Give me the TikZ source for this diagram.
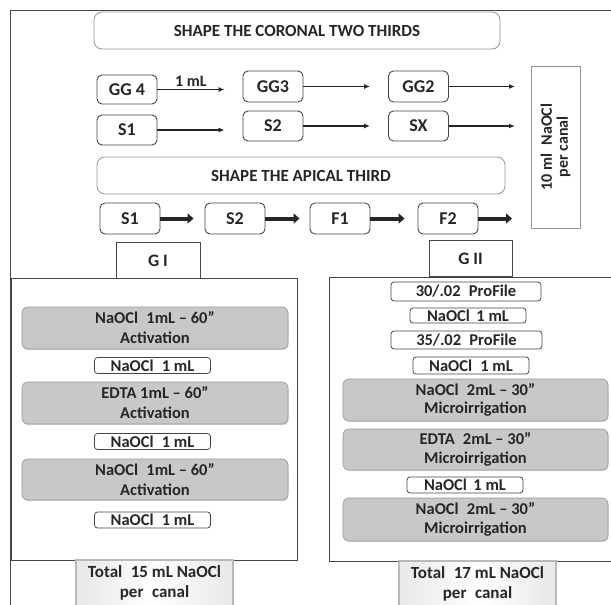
\documentclass[tikz,border=0pt]{standalone}
\usepackage{fontspec}
\setmainfont{Carlito}
\usetikzlibrary{arrows.meta,shadows}
\definecolor{inkgray}{RGB}{38,38,38}
\definecolor{stepgray}{RGB}{200,200,200}
\definecolor{edgegray}{RGB}{150,150,150}
\definecolor{framegray}{RGB}{70,70,70}

\begin{document}
\begin{tikzpicture}[
  x=1pt, y=-1pt,
  every node/.style={font=\bfseries, text=inkgray, inner sep=0pt},
  banner/.style={draw=edgegray, rounded corners=8pt, line width=0.8pt,
    minimum width=406pt, minimum height=37pt,
    font=\fontsize{17}{20}\selectfont\bfseries},
  filebox/.style={draw=framegray, rounded corners=5pt, line width=0.9pt,
    minimum width=60pt, minimum height=30pt,
    font=\fontsize{18}{20}\selectfont\bfseries},
  groupbox/.style={draw=framegray, line width=0.9pt,
    minimum width=84pt, minimum height=36pt,
    font=\fontsize{17.5}{20}\selectfont\bfseries},
  stepbox/.style={fill=stepgray, draw=edgegray, rounded corners=6pt,
    line width=0.6pt, minimum width=266pt, minimum height=42pt, align=center,
    font=\fontsize{16.5}{20}\selectfont\bfseries,
    drop shadow={opacity=0.3, shadow xshift=0.6pt, shadow yshift=-1.2pt}},
  rinse/.style={draw=framegray, rounded corners=3pt, line width=0.8pt,
    minimum width=116pt, minimum height=16pt,
    font=\fontsize{16.5}{16}\selectfont\bfseries},
  totalbox/.style={draw=gray!55, line width=1.1pt, left color=gray!18,
    right color=gray!18, middle color=white, minimum width=157pt,
    minimum height=46pt, align=center,
    font=\fontsize{17}{20}\selectfont\bfseries},
  thinflow/.style={-{Latex[length=6pt,width=5pt]}, line width=1.4pt, black!85},
  thickflow/.style={-{Triangle[length=6pt,width=10pt]}, line width=4pt, black!85},
]
\useasboundingbox (0,0) rectangle (611,605);

%% ---- OUTER FRAME (open to the right and below) ----
\draw[framegray, line width=0.9pt] (611,10) -- (10,10) -- (10,605);

%% ---- CORONAL TWO THIRDS ----
\node[banner] (coronal) at (297,30.5) {SHAPE THE CORONAL TWO THIRDS};

% Gates Glidden row
\node[filebox, minimum height=29pt] (gg4) at (127,89.5) {GG 4};
\node[filebox, minimum height=31pt] (gg3) at (273,86.5) {GG3};
\node[filebox, minimum height=31pt] (gg2) at (418.5,86.5) {GG2};
\coordinate (rowAend) at (515,88);
\draw[thinflow, shorten >=18pt] (gg4.east) -- (gg4.east -| gg3.west);
\draw[thinflow, shorten >=18pt] (gg3.east) -- (gg3.east -| gg2.west);
\draw[thinflow] (gg2.east) -- (gg2.east -| rowAend);
\node[font=\fontsize{16}{16}\selectfont\bfseries] (onemL) at (191,81) {1 mL};

% ProTaper shaping row
\node[filebox] (s1c) at (127,130) {S1};
\node[filebox] (s2c) at (273,126) {S2};
\node[filebox] (sxc) at (418.5,126) {SX};
\coordinate (rowBend) at (515,128);
\draw[thinflow, shorten >=18pt] (s1c.east) -- (s1c.east -| s2c.west);
\draw[thinflow, shorten >=18pt] (s2c.east) -- (s2c.east -| sxc.west);
\draw[thinflow] (sxc.east) -- (sxc.east -| rowBend);

% Irrigant volume (vertical)
\node[draw=edgegray, line width=0.9pt, minimum width=162pt, minimum height=49pt,
      rotate=90, align=center, font=\fontsize{16}{16}\selectfont\bfseries]
  (tenml) at (555.5,147) {10 ml\enspace NaOCl\\per canal};

%% ---- APICAL THIRD ----
\node[banner, minimum width=408pt] (apical) at (301,175.5) {SHAPE THE APICAL THIRD};

\node[filebox, minimum height=31pt] (s1a) at (130,218.5) {S1};
\node[filebox, minimum height=31pt] (s2a) at (235,218.5) {S2};
\node[filebox, minimum height=31pt] (f1a) at (340,218.5) {F1};
\node[filebox, minimum height=31pt] (f2a) at (448,218.5) {F2};
\coordinate (rowCend) at (512,218.5);
\draw[thickflow, shorten >=11pt] (s1a) -- (s2a);
\draw[thickflow, shorten >=10pt] (s2a) -- (f1a);
\draw[thickflow, shorten >=13pt] (f1a) -- (f2a);
\draw[thickflow] (f2a) -- (rowCend);

%% ---- GROUP LABELS ----
\node[groupbox] (gI) at (158,260.5) {G I};
\node[groupbox, minimum width=83pt] (gII) at (470.5,258.5) {G II};

%% ---- LEFT PANEL: G I ----
\draw[framegray, line width=0.9pt] (11,278) rectangle (297,560);

\node[stepbox] (actA) at (155,328) {NaOCl\enspace 1mL -- 60”\\Activation};
\node[rinse] (rinA) at (152.5,365.5) {NaOCl\enspace 1 mL};
\node[stepbox] (actB) at (155,403) {EDTA 1mL -- 60”\\Activation};
\node[rinse] (rinB) at (152.5,441.5) {NaOCl\enspace 1 mL};
\node[stepbox, minimum height=41pt] (actC) at (155,479.5) {NaOCl\enspace 1mL -- 60”\\Activation};
\node[rinse] (rinC) at (152.5,520) {NaOCl\enspace 1 mL};

\node[totalbox] (totI) at (154.5,583) {Total\enspace 15 mL NaOCl\\per\enspace canal};

%% ---- RIGHT PANEL: G II ----
\draw[framegray, line width=0.9pt] (611,277) -- (329,277) -- (329,561) -- (611,561);

\node[rinse, minimum width=150pt, minimum height=19pt] (pf30) at (466,291.5) {30/.02\enspace ProFile};
\node[rinse, minimum height=15pt] (rinD) at (468,315.5) {NaOCl\, 1 mL};
\node[rinse, minimum width=151pt, minimum height=18pt] (pf35) at (466.5,340) {35/.02\enspace ProFile};
\node[rinse, minimum height=17pt] (rinE) at (471,365.5) {NaOCl\enspace 1 mL};
\node[stepbox, minimum width=265pt, font=\fontsize{16.5}{18.5}\selectfont\bfseries]
  (micA) at (475.5,400) {NaOCl\enspace 2mL -- 30”\\Microirrigation};
\node[stepbox, minimum width=265pt, minimum height=41pt, font=\fontsize{16.5}{18.5}\selectfont\bfseries]
  (micB) at (475.5,449.5) {EDTA\enspace 2mL -- 30”\\Microirrigation};
\node[rinse] (rinF) at (465,485) {NaOCl\, 1 mL};
\node[stepbox, minimum width=265pt, minimum height=43pt, font=\fontsize{16.5}{18.5}\selectfont\bfseries]
  (micC) at (475.5,519.5) {NaOCl\enspace 2mL -- 30”\\Microirrigation};

\node[totalbox] (totII) at (477.5,584) {Total\enspace 17 mL NaOCl\\per\enspace canal};

\end{tikzpicture}
\end{document}
